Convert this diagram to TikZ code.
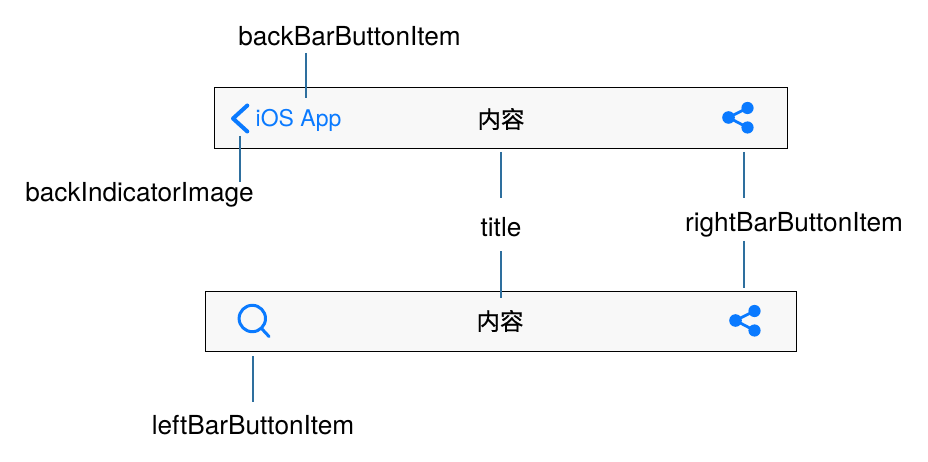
\documentclass[tikz,border=0pt]{standalone}
\usepackage{fontspec}
\setmainfont{TeX Gyre Heros}
\newfontfamily\cjkfont[FakeBold=0.6]{Noto Sans CJK SC}
\definecolor{iosblue}{HTML}{0A7AFF}
\definecolor{leader}{HTML}{2E6F9E}
\definecolor{barfill}{HTML}{F8F8F8}
\tikzset{
  barbox/.style={draw=black,fill=barfill,line width=1pt,inner sep=0pt,anchor=north west},
  lbl/.style={font=\fontsize{26.2}{30}\selectfont,text=black,inner sep=0pt},
  leaderline/.style={draw=leader,line width=1.3pt},
  cjklbl/.style={font=\cjkfont\fontsize{23.5}{28}\selectfont,text=black,inner sep=0pt},
  bluelbl/.style={font=\fontsize{23}{29}\selectfont,text=iosblue,inner sep=0pt},
  iconline/.style={draw=iosblue,line cap=round,line join=round},
}
\begin{document}
\begin{tikzpicture}[x=1pt,y=-1pt]
\useasboundingbox (0,0) rectangle (928,462);
% bars
\node[barbox,minimum width=573.5pt,minimum height=61.5pt] (bara) at (213.7,86.7) {};
\node[barbox,minimum width=591.5pt,minimum height=60.5pt] (barb) at (204.7,290.7) {};
% labels
\node[lbl] (back) at (349.5,36) {backBarButtonItem};
\node[lbl] (indicator) at (139.5,194.5) {backIndicatorImage};
\node[lbl] (title) at (501,227.5) {title};
\node[lbl] (right) at (794,224.5) {rightBarButtonItem};
\node[lbl] (left) at (253,425) {leftBarButtonItem};
\node[bluelbl] (app) at (298.5,120) {iOS App};
\node[cjklbl] (cona) at (501,119) {内容};
\node[cjklbl] (conb) at (500,321) {内容};
% connector ends
\coordinate (e1a) at (306,53);
\coordinate (e1b) at (306,98);
\coordinate (e2a) at (240,136);
\coordinate (e2b) at (240,182);
\coordinate (e3a) at (501,152);
\coordinate (e3b) at (501,198);
\coordinate (e4a) at (501,251);
\coordinate (e4b) at (501,298);
\coordinate (e5a) at (744,152);
\coordinate (e5b) at (744,198);
\coordinate (e6a) at (744,241);
\coordinate (e6b) at (744,288);
\coordinate (e7a) at (253,356);
\coordinate (e7b) at (253,402);
\foreach \n in {1,...,7} \draw[leaderline] (e\n a) -- (e\n b);
% chevron
\draw[iconline,line width=4pt] (247.3,105.5) -- (233,118.5) -- (247.3,131.5);
% share icons
\foreach \dx/\dy in {0/0,7/203}{
  \begin{scope}[shift={(\dx,\dy)}]
    \draw[iconline,line width=2.8pt] (747.5,108) -- (728.5,117.5) -- (747.5,127.5);
    \fill[iosblue] (728.5,117.5) circle (6.3pt) (747.5,108) circle (6.1pt) (747.5,127.5) circle (6.1pt);
  \end{scope}
}
% search
\draw[iconline,line width=3pt] (252.3,318.5) circle (13.2pt);
\draw[iconline,line width=3pt] (262,329) -- (269,336.5);
\end{tikzpicture}
\end{document}
